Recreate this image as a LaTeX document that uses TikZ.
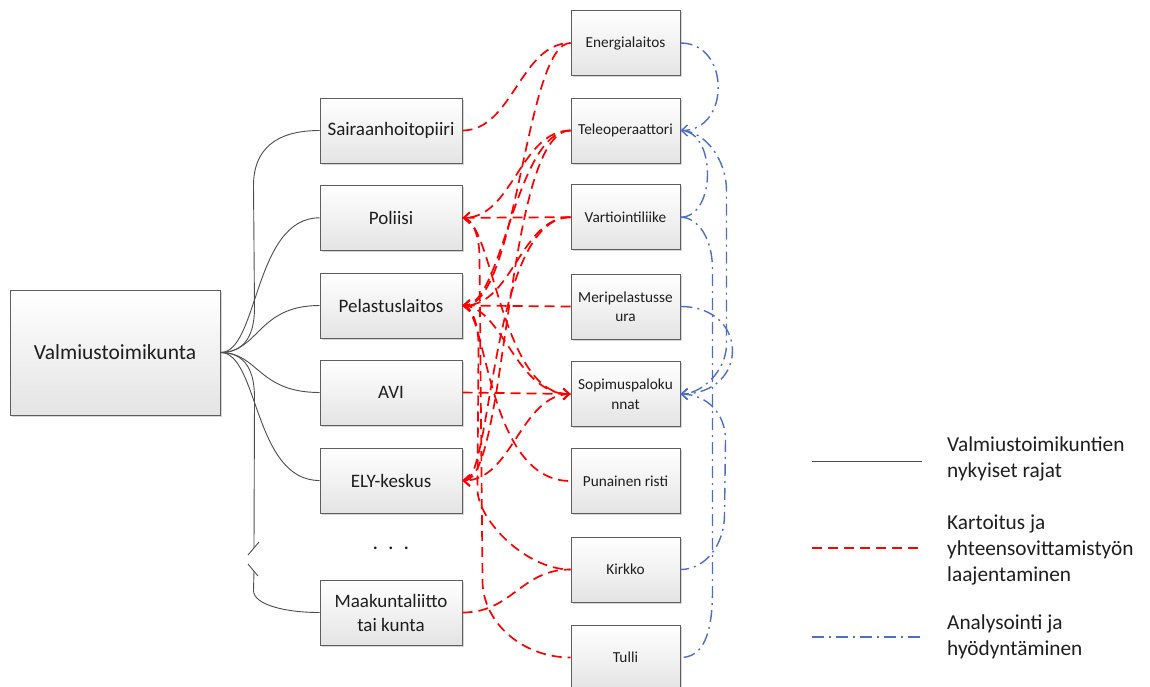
\documentclass[tikz,border=0pt]{standalone}
\usepackage{fontspec}
\setmainfont{Carlito}
\usetikzlibrary{arrows.meta,calc,shadows}

\definecolor{boxline}{HTML}{5E5E5E}
\definecolor{boxfill}{HTML}{E4E4E4}
\definecolor{linkred}{HTML}{FF0000}
\definecolor{linkblue}{HTML}{4A6FC4}
\definecolor{rajaline}{HTML}{4D4D4D}
\definecolor{labeltext}{HTML}{1E1E1E}

\begin{document}
\begin{tikzpicture}[x=1pt,y=-1pt,
  box/.style={draw=boxline, line width=1pt, top color=white, bottom color=boxfill,
    minimum height=65pt, inner sep=2pt, align=center, text=labeltext,
    drop shadow={shadow xshift=1.6pt, shadow yshift=-1.6pt, opacity=0.3, fill=black!55}},
  mainbox/.style={box, minimum width=210pt, minimum height=125pt,
    font=\fontsize{21.5}{26}\selectfont},
  orgbox/.style={box, minimum width=142pt, font=\fontsize{19}{24}\selectfont},
  partnerbox/.style={box, minimum width=109pt, font=\fontsize{15.3}{19.5}\selectfont},
  legendtext/.style={anchor=west, inner sep=0pt, align=left, text=labeltext,
    font=\fontsize{21.3}{26}\selectfont},
  rajat/.style={draw=rajaline, line width=0.9pt},
  kartoitus/.style={draw=linkred, line width=1.7pt, dash pattern=on 10pt off 6pt},
  analyysi/.style={draw=linkblue, line width=1.4pt,
    dash pattern=on 12pt off 5pt on 2pt off 5pt},
  tip/.style={-{Straight Barb[length=6pt,width=11pt]}},
]
\useasboundingbox (0,0) rectangle (1150,686);

% committee and current member organisations
\node[mainbox] (V) at (115,352.5) {Valmiustoimikunta};
\node[orgbox] (S)  at (391,130.5) {Sairaanhoitopiiri};
\node[orgbox] (Po) at (391,217.8) {Poliisi};
\node[orgbox] (Pe) at (391,305.5) {Pelastuslaitos};
\node[orgbox] (A)  at (391,392.5) {AVI};
\node[orgbox] (E)  at (391,480.5) {ELY-keskus};
\node[font=\fontsize{22}{26}\selectfont, text=labeltext] (dots) at (391,548) {.\ \ .\ \ .};
\node[orgbox] (M)  at (391,612.5) {Maakuntaliitto\\tai kunta};

% partner organisations
\node[partnerbox] (En) at (625.5,43)    {Energialaitos};
\node[partnerbox] (Te) at (625.5,130.5) {Teleoperaattori};
\node[partnerbox] (Va) at (625.5,217.2) {Vartiointiliike};
\node[partnerbox] (Me) at (625.5,306.5) {Meripelastusse\\ura};
\node[partnerbox] (So) at (625.5,394)   {Sopimuspaloku\\nnat};
\node[partnerbox] (Pu) at (625.5,481)   {Punainen risti};
\node[partnerbox] (Ki) at (625.5,569.5) {Kirkko};
\node[partnerbox] (Tu) at (625.5,657.5) {Tulli};

% current boundaries of the committee
\coordinate (brkA) at (254,548);
\coordinate (brkB) at (254,571);
\draw[rajat] (V.east) .. controls +(26,0) and +(0,25) .. ($(V.east)+(34,-45)$)
  -- ($(S.west)+(-66,55)$) .. controls +(0,-35) and +(-45,0) .. (S.west);
\draw[rajat] (V.east) .. controls +(38,0) and +(-66,0) .. (Po.west);
\draw[rajat] (V.east) .. controls +(38,0) and +(-62,0) .. (Pe.west);
\draw[rajat] (V.east) .. controls +(38,0) and +(-62,0) .. (A.west);
\draw[rajat] (V.east) .. controls +(38,0) and +(-66,0) .. (E.west);
\draw[rajat] (V.east) .. controls +(26,0) and +(0,-25) .. ($(V.east)+(34,45)$) -- (brkA);
\draw[rajat] (brkB) -- ($(M.west)+(-66,-22)$) .. controls +(0,14) and +(-35,0) .. (M.west);
\draw[rajat] ($(brkA)+(-6,7)$) -- ($(brkA)+(5,-6)$);
\draw[rajat] ($(brkB)+(-6,-7)$) -- ($(brkB)+(4,5)$);

% mapping and coordination links
\draw[kartoitus] (S.east) .. controls +(50,0) and +(-50,0) .. (En.west);
\draw[kartoitus,tip] (En.west) .. controls +(-45,0) and +(55,0) .. (Pe.east);
\draw[kartoitus,tip] (Te.west) .. controls +(-50,0) and +(50,0) .. (Po.east);
\draw[kartoitus,tip] (Te.west) .. controls +(-55,0) and +(40,0) .. (Pe.east);
\draw[kartoitus,tip] (Te.west) .. controls +(-65,0) and +(45,0) .. (E.east);
\draw[kartoitus,tip] (Va.west) -- (Po.east);
\draw[kartoitus,tip] (Va.west) .. controls +(-50,0) and +(50,0) .. (Pe.east);
\draw[kartoitus,tip] (Va.west) .. controls +(-80,0) and +(30,0) .. (E.east);
\draw[kartoitus,tip] (Me.west) -- (Pe.east);
\draw[kartoitus,tip] (A.east) -- (So.west);
\draw[kartoitus,tip] (Pe.east) .. controls +(40,0) and +(-55,0) .. (So.west);
\draw[kartoitus,tip] (Po.east) .. controls +(30,0) and +(-70,0) .. (So.west);
\draw[kartoitus,tip] (So.west) .. controls +(-50,0) and +(50,0) .. (E.east);
\draw[kartoitus] (Pe.east) .. controls +(25,0) and +(-85,0) .. (Pu.west);
\draw[kartoitus] (Pe.east) .. controls +(9,0) and +(0,-22) .. ($(Pe.east)+(16,40)$)
  -- ($(Ki.west)+(-93,-80)$) .. controls +(0,30) and +(-45,0) .. (Ki.west);
\draw[kartoitus] (Po.east) .. controls +(10,0) and +(0,-22) .. ($(Po.east)+(17,40)$)
  -- ($(Tu.west)+(-88,-77)$) .. controls +(0,42) and +(-48,0) .. (Tu.west);
\draw[kartoitus] (M.east) .. controls +(50,0) and +(-50,0) .. (Ki.west);

% analysis and utilisation links
\draw[analyysi,tip] (En.east) .. controls +(50,0) and +(50,0) .. (Te.east);
\draw[analyysi] (Va.east) .. controls +(36,0) and +(36,0) .. (Te.east);
\draw[analyysi,tip] (Te.east) .. controls +(25,0) and +(0,-30) .. ($(Te.east)+(46,60)$)
  -- ($(So.east)+(46,-50)$) .. controls +(0,28) and +(20,0) .. (So.east);
\draw[analyysi] (Va.east) .. controls +(18,0) and +(0,-30) .. ($(Va.east)+(32,52)$)
  -- ($(Tu.east)+(32,-67)$) .. controls +(0,45) and +(22,0) .. (Tu.east);
\draw[analyysi,tip] (Me.east) .. controls +(69,0) and +(69,0) .. (So.east);
\draw[analyysi] (So.east) .. controls +(28,0) and +(0,-25) .. ($(So.east)+(45,46)$)
  -- ($(Ki.east)+(44,-55)$) .. controls +(0,30) and +(25,0) .. (Ki.east);

% legend
\coordinate (l1a) at (812,461);  \coordinate (l1b) at (922,461);
\coordinate (l2a) at (812,548);  \coordinate (l2b) at (920,548);
\coordinate (l3a) at (812,637);  \coordinate (l3b) at (922,637);
\draw[rajat] (l1a) -- (l1b);
\draw[kartoitus] (l2a) -- (l2b);
\draw[analyysi] (l3a) -- (l3b);
\node[legendtext] (t1) at (947,459) {Valmiustoimikuntien\\nykyiset rajat};
\node[legendtext] (t2) at (947,550) {Kartoitus ja\\yhteensovittamistyön\\laajentaminen};
\node[legendtext] (t3) at (947,637) {Analysointi ja\\hyödyntäminen};
\end{tikzpicture}
\end{document}
